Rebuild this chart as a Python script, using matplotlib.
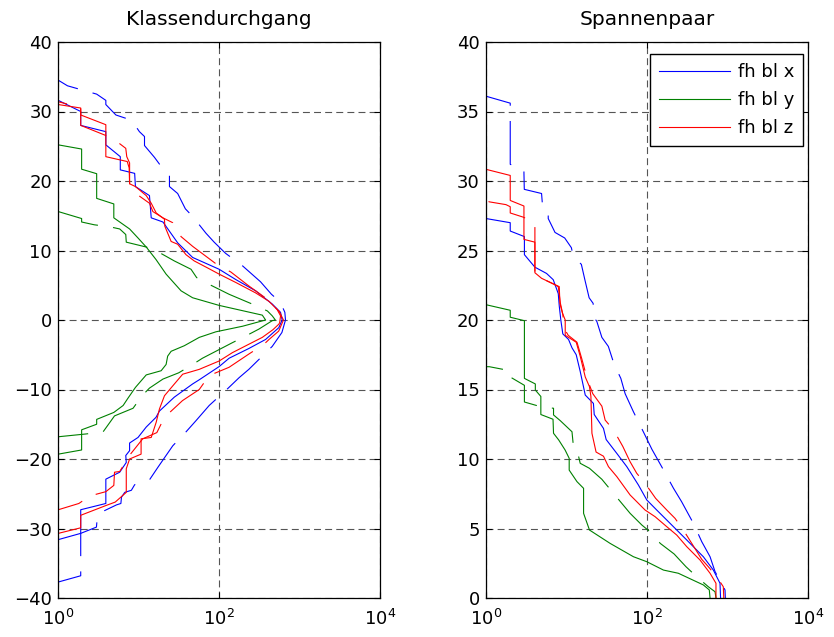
import matplotlib
matplotlib.use('Agg')
import matplotlib.pyplot as plt
from matplotlib.ticker import NullLocator, FixedLocator

plt.rcParams['font.family'] = ['DejaVu Sans']
plt.rcParams['lines.scale_dashes'] = False

# Level crossing counts (count, level), top to bottom
kd_x_solid = [(1, 31.6), (1.9, 30.0), (1.9, 28.0), (3.9, 27.1), (3.9, 25.2), (5.9, 23.5), (5.9, 21.6),
              (8.9, 21.1), (9.1, 19.2), (13.6, 17.9), (14.3, 14.7), (20, 14.1), (30.5, 11.1), (46.8, 9.0),
              (100, 7.3), (162, 5.8), (284, 4.2), (457, 2.3), (580, 1.1), (607, 0.0), (552, -1.1),
              (378, -2.8), (234, -4.1), (133, -5.5), (100, -6.7), (56.6, -8.6), (46.8, -9.2), (27.7, -11.1),
              (18.1, -13.1), (16.4, -14.0), (12.4, -15.4), (9.8, -16.9), (7.7, -17.7), (7.7, -18.8),
              (6.9, -19.5), (7.0, -20.5), (5.8, -21.9), (3.9, -22.9), (3.9, -26.4), (1.9, -27.3),
              (1.9, -30.7), (1, -31.6)]
kd_x_dashed = [(1, 37.8), (1, 34.5), (1.3, 33.7), (3.0, 32.5), (3.9, 31.6), (3.9, 31.0), (5.2, 29.5),
               (7.0, 29.0), (8.9, 28.1), (10.2, 27.1), (11.8, 26.4), (11.8, 25.1), (15.7, 23.4), (19, 22.1),
               (24.1, 20.9), (24.1, 19.2), (30.5, 18.2), (38, 16.0), (46.8, 14.9), (68.4, 12.5), (86.7, 11.2),
               (120, 9.6), (195, 7.8), (327, 5.5), (447, 3.7), (575, 2.6), (656, 1.1), (668, 0.0),
               (603, -1.8), (457, -3.8), (234, -7.1), (177, -8.3), (127, -9.9), (75.2, -12.3), (51.4, -14.5),
               (38, -16.2), (26.5, -18.1), (17.3, -21.2), (13.6, -23.0), (8.9, -23.7), (8.1, -24.5),
               (6.7, -24.8), (6.1, -25.5), (6.0, -26.4), (5.3, -26.6), (3.5, -27.6), (3.07, -28.1),
               (2.98, -29.8), (1.9, -30.7), (1.9, -36.8), (1, -37.7)]
kd_y_solid = [(1, 25.2), (1.95, 24.6), (1.95, 21.7), (3.0, 21.05), (3.0, 17.5), (4.9, 16.7), (4.9, 14.7),
              (7.7, 13.1), (9.8, 11.8), (12.4, 10.5), (16.4, 8.7), (21.9, 6.6), (33.6, 4.2), (46.8, 3.2),
              (100, 2.1), (344, 0.7), (378, 0.0), (195, -0.9), (91, -1.7), (56.6, -2.5), (36.9, -3.7),
              (25.3, -4.5), (22.9, -5.2), (21.9, -6.4), (19, -7.3), (12.4, -7.9), (9.1, -9.7), (7.3, -11.3),
              (6.4, -12.3), (4.9, -13.3), (3.0, -14.3), (3.0, -15.0), (1.95, -15.8), (1.95, -18.7),
              (1, -19.3)]
kd_y_dashed = [(1, 15.6), (1.95, 14.6), (1.95, 14.1), (2.8, 13.7), (4.4, 13.4), (5.8, 13.1), (6.9, 12.3),
               (7.0, 11.2), (12.4, 10.5), (18.1, 9.7), (27.7, 8.5), (44.7, 7.3), (52.5, 6.1), (79, 5.0),
               (133, 3.7), (257, 2.3), (398, 1.3), (457, 0.6), (500, 0.0), (457, -0.1), (313, -1.3),
               (214, -2.3), (144, -3.3), (91, -4.5), (62, -5.5), (46.8, -6.4), (31.4, -7.6), (20, -8.5),
               (13.6, -9.8), (11, -10.9), (8.5, -12.7), (5, -13.8), (3.6, -16.1), (2.2, -16.4), (1, -16.8)]
kd_z_solid = [(1, 31.0), (1.9, 30.5), (1.9, 29.5), (3.9, 28.1), (3.9, 23.5), (7.2, 22.8), (7.6, 21.9),
              (7.7, 19.6), (9.1, 19.2), (12.4, 17.9), (14.3, 16.8), (16.5, 15.4), (20.9, 14.5), (21.1, 13.5),
              (25.3, 11.3), (30.5, 10.9), (38.7, 9.4), (49, 8.5), (71.6, 7.5), (100, 6.6), (161, 5.4),
              (284, 3.9), (415, 2.7), (526, 1.5), (580, 0.6), (565, -0.4), (552, -0.6), (466, -1.4),
              (344, -2.5), (224, -3.6), (146, -4.7), (100, -5.9), (56.6, -7.1), (35.2, -7.8), (26.4, -9.5),
              (20.9, -10.9), (18.1, -12.8), (16.5, -14.7), (14.3, -16.9), (10.7, -17.1), (10.7, -19.3),
              (7.7, -20.0), (7.0, -21.4), (7.0, -24.8), (5.1, -26.2), (3.9, -26.7), (1.9, -28.1),
              (1.9, -29.9), (1, -30.7)]
kd_z_dashed = [(1, 36.5), (1, 31.4), (1.9, 30.6), (1.9, 28.0), (3.8, 26.6), (5.6, 25.5), (6.9, 24.7),
               (7.1, 23.5), (7.7, 22.6), (7.7, 19.6), (10, 17.9), (13.6, 16.8), (15, 15.6), (20, 14.7),
               (26.5, 14.0), (33.6, 12.0), (46.8, 10.6), (91, 8.1), (140, 6.9), (234, 4.9), (385, 3.1),
               (560, 1.2), (630, 0.0), (550, -1.6), (417, -2.8), (360, -3.5), (234, -4.9), (133, -6.8),
               (75, -8.0), (56.6, -10.0), (35, -11.6), (20.9, -14.0), (16.8, -16.2), (11.2, -17.1),
               (7.9, -19.3), (5.8, -21.8), (5.0, -21.9), (4.9, -23.8), (3.9, -24.7), (2.5, -25.3),
               (1.8, -26.4), (1, -27.3)]

# Range pair counts (count, range), top to bottom
sp_x_solid = [(1, 38.6), (1, 27.3), (2.0, 27.0), (2.0, 26.4), (3.0, 26.0), (3.0, 24.7), (4.05, 23.8),
              (5.65, 23.35), (6.84, 22.9), (7.9, 21.9), (8.13, 21.0), (8.5, 20.0), (9.0, 19.0),
              (10.6, 18.6), (11.7, 18.0), (13.2, 17.5), (14.8, 16.3), (17.1, 14.6), (21.6, 14.0),
              (22.1, 13.2), (28.8, 12.2), (31.1, 11.4), (42.2, 10.4), (56.1, 9.45), (78.2, 8.13),
              (99.5, 7.05), (132, 6.33), (213, 5.13), (312, 4.17), (501, 2.97), (667, 2.01), (807, 1.06),
              (820, 0.0)]
sp_x_dashed = [(1, 37.3), (1, 36.1), (2.0, 35.6), (2.0, 31.2), (2.96, 30.8), (2.96, 30.6), (2.99, 29.4),
               (4.9, 29.1), (5.04, 28.2), (5.93, 27.7), (5.93, 27.3), (7.2, 26.3), (9.5, 25.9), (11.5, 25.2),
               (12.1, 24.6), (15.3, 24.0), (16.9, 22.9), (19.1, 21.6), (21.4, 21.2), (22.5, 20.1),
               (23.8, 19.9), (27.5, 18.75), (33.1, 18.1), (39.1, 16.8), (47.3, 15.8), (53.5, 14.7),
               (67.8, 13.4), (92, 11.85), (115, 10.7), (152, 9.45), (213, 7.9), (269, 6.93), (377, 5.37),
               (479, 4.05), (607, 2.97), (700, 1.9), (931, 0.58), (940, 0.0)]
sp_y_solid = [(1, 26.4), (1, 21.1), (2.0, 20.7), (2.0, 20.2), (3.0, 19.95), (3.0, 15.8), (4.1, 15.4),
              (4.1, 14.96), (4.8, 14.5), (4.8, 13.2), (6.8, 12.86), (6.9, 11.85), (8.0, 11.37), (9.6, 10.65),
              (10.8, 10.05), (10.8, 9.2), (13.5, 8.37), (16.3, 7.89), (16.3, 6.09), (19.3, 4.89),
              (34.8, 3.93), (67.8, 2.97), (99.5, 2.61), (160, 2.01), (245, 1.78), (501, 0.94), (594, 0.58),
              (607, 0.0)]
sp_y_dashed = [(1, 18.6), (1, 16.64), (1.1, 16.64), (2.0, 16.35), (2.0, 15.9), (3.0, 15.3), (3.0, 14.1),
               (4.8, 13.76), (6.9, 13.65), (6.9, 13.17), (8.36, 12.76), (11.7, 11.96), (12.2, 10.88),
               (13.7, 10.52), (14.8, 9.69), (19.3, 9.33), (27.5, 8.54), (38.3, 7.53), (61.7, 6.09),
               (86.3, 5.25), (115, 4.65), (146, 3.93), (217, 3.17), (305, 2.25), (415, 1.53), (578, 0.81),
               (700, 0.45), (720, 0.0)]
sp_z_solid = [(1, 38.0), (1, 30.84), (2.0, 30.4), (2.0, 28.6), (2.96, 28.2), (2.96, 25.8), (4.05, 25.6),
              (4.05, 23.4), (4.9, 23.0), (6.84, 22.6), (8.13, 22.4), (8.28, 21.2), (8.9, 20.5), (9.64, 20.0),
              (9.64, 18.9), (13.2, 18.4), (14.8, 17.4), (17.1, 15.9), (19.3, 15.2), (20.1, 14.5),
              (20.7, 11.85), (23.3, 10.5), (28.8, 10.2), (33.2, 9.45), (42.2, 8.73), (61.7, 7.41),
              (94.6, 6.33), (126, 5.85), (176, 5.13), (234, 4.53), (312, 3.69), (456, 2.73), (607, 1.78),
              (719, 1.06), (719, 0.0)]
sp_z_dashed = [(1, 32.7), (1, 28.6), (1.1, 28.5), (1.77, 28.3), (2.0, 28.15), (2.0, 27.7), (2.9, 27.4),
               (4.05, 27.0), (4.05, 23.4), (4.9, 23.0), (6.84, 22.6), (7.9, 22.4), (8.4, 21.2), (9.0, 20.4),
               (9.35, 19.4), (10.5, 18.9), (13.5, 18.4), (15.5, 17.2), (18.2, 15.7), (21.2, 14.7),
               (27.5, 13.8), (30.2, 12.8), (38.3, 12.1), (50.1, 10.9), (61.7, 9.8), (74.6, 8.97),
               (94.6, 8.25), (128, 7.17), (176, 6.33), (223, 5.73), (283, 4.89), (377, 3.74), (479, 2.78),
               (578, 2.25), (735, 1.53), (887, 0.81), (900, 0.0)]

labels = ['fh bl x', 'fh bl y', 'fh bl z']
colors = ['#0000ff', '#008000', '#ff0000']
titles = ['Klassendurchgang', 'Spannenpaar']
kd_curves = [(kd_x_solid, kd_x_dashed), (kd_y_solid, kd_y_dashed), (kd_z_solid, kd_z_dashed)]
sp_curves = [(sp_x_solid, sp_x_dashed), (sp_y_solid, sp_y_dashed), (sp_z_solid, sp_z_dashed)]

W, H = 834, 637
fig = plt.figure(figsize=(W / 100, H / 100), dpi=100)
ax1 = fig.add_axes([58.3 / W, 1 - 598 / H, (380 - 58.3) / W, 556 / H])
ax2 = fig.add_axes([486 / W, 1 - 598 / H, (808 - 486) / W, 556 / H])

DASH = (0, (32, 11))


def draw(ax, curves):
    handles = []
    for (solid, dashed), c, lab in zip(curves, colors, labels):
        n, lvl = zip(*solid)
        h, = ax.plot(n, lvl, color=c, lw=0.8, label=lab)
        n, lvl = zip(*dashed)
        ax.plot(n, lvl, color=c, lw=0.8, linestyle=DASH)
        handles.append(h)
    return handles


def style(ax, title, yticks):
    ax.set_xscale('log')
    ax.set_xlim(1, 1e4)
    ax.xaxis.set_major_locator(FixedLocator([1, 100, 1e4]))
    ax.xaxis.set_minor_locator(NullLocator())
    ax.set_ylim(yticks[0], yticks[-1])
    ax.set_yticks(yticks)
    ax.grid(True, which='major', color='#555555', lw=0.8, linestyle=(0, (5, 3)))
    ax.tick_params(direction='in', length=4, top=True, right=True, labelsize=13, width=0.8)
    ax.tick_params(axis='y', pad=4.5)
    ax.tick_params(axis='x', pad=8)
    for sp in ax.spines.values():
        sp.set_linewidth(0.9)
    ax.set_title(title, fontsize=14.5, pad=12)


draw(ax1, kd_curves)
style(ax1, titles[0], list(range(-40, 41, 10)))
handles = draw(ax2, sp_curves)
style(ax2, titles[1], list(range(0, 41, 5)))

leg = ax2.legend(handles=handles, loc='upper right', bbox_to_anchor=(0.985, 0.978), borderaxespad=0,
                 fontsize=13, handlelength=3.9, handletextpad=0.45, labelspacing=0.55, fancybox=False,
                 framealpha=1, edgecolor='black', borderpad=0.5)
leg.get_frame().set_linewidth(1.0)

fig.savefig('out.png', dpi=100)
